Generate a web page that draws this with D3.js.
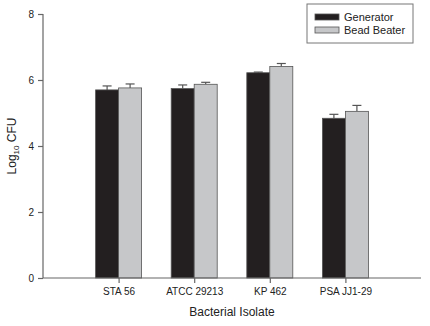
<!DOCTYPE html>
<html>
<head>
<meta charset="utf-8">
<script src="https://cdn.jsdelivr.net/npm/d3@7"></script>
<style>
  body { margin: 0; background: #fff; }
  svg { font-family: "Liberation Sans", Arial, sans-serif; }
</style>
</head>
<body>
<div id="wrapper"></div>
<script>
// values
const isolates = ["STA 56", "ATCC 29213", "KP 462", "PSA JJ1-29"];
const generator = [5.70, 5.74, 6.22, 4.84];
const generatorErr = [0.12, 0.11, 0.02, 0.12];
const beadBeater = [5.76, 5.87, 6.41, 5.05];
const beadBeaterErr = [0.12, 0.06, 0.09, 0.18];
const yTicks = [0, 2, 4, 6, 8];
const seriesNames = ["Generator", "Bead Beater"];
const seriesColors = ["#231f20", "#c6c7c9"];

function buildPlot() {
    const dimension = {
        width: 430,
        height: 326,
        margin: { top: 14, left: 43, bottom: 48, right: 9 }
    };
    dimension.boundedWidth = dimension.width - dimension.margin.left - dimension.margin.right;
    dimension.boundedHeight = dimension.height - dimension.margin.top - dimension.margin.bottom;

    const svg = d3.select("#wrapper").append("svg")
        .attr("width", dimension.width)
        .attr("height", dimension.height);

    const bounded = svg.append("g")
        .attr("transform", `translate(${dimension.margin.left},${dimension.margin.top})`);

    // categories sit at 1..4 on a 0..5 axis
    const xScaler = d3.scaleLinear()
        .domain([0, isolates.length + 1])
        .range([0, dimension.boundedWidth]);

    const yScaler = d3.scaleLinear()
        .domain([0, 8])
        .range([dimension.boundedHeight, 0]);

    const barWidth = 23;
    const series = [
        { name: seriesNames[0], values: generator, errs: generatorErr, color: seriesColors[0], off: -barWidth },
        { name: seriesNames[1], values: beadBeater, errs: beadBeaterErr, color: seriesColors[1], off: 0 }
    ];

    series.forEach(s => {
        const g = bounded.append("g");
        g.selectAll("line.stem")
            .data(s.values)
            .join("line")
            .attr("x1", (d, i) => xScaler(i + 1) + s.off + barWidth / 2)
            .attr("x2", (d, i) => xScaler(i + 1) + s.off + barWidth / 2)
            .attr("y1", d => yScaler(d))
            .attr("y2", (d, i) => yScaler(d + s.errs[i]))
            .attr("stroke", "#555")
            .attr("stroke-width", 1.2);
        g.selectAll("line.cap")
            .data(s.values)
            .join("line")
            .attr("x1", (d, i) => xScaler(i + 1) + s.off + barWidth / 2 - 4.5)
            .attr("x2", (d, i) => xScaler(i + 1) + s.off + barWidth / 2 + 4.5)
            .attr("y1", (d, i) => yScaler(d + s.errs[i]))
            .attr("y2", (d, i) => yScaler(d + s.errs[i]))
            .attr("stroke", "#555")
            .attr("stroke-width", 1.2);
        g.selectAll("rect")
            .data(s.values)
            .join("rect")
            .attr("x", (d, i) => xScaler(i + 1) + s.off)
            .attr("y", d => yScaler(d))
            .attr("width", barWidth)
            .attr("height", d => yScaler(0) - yScaler(d))
            .attr("fill", s.color)
            .attr("stroke", "#555")
            .attr("stroke-width", 0.8);
    });

    const yAxis = d3.axisLeft(yScaler)
        .tickValues(yTicks)
        .tickSize(5)
        .tickPadding(4);

    const gy = bounded.append("g").call(yAxis);
    gy.select(".domain").attr("d", `M0,0V${dimension.boundedHeight}`);

    const xAxis = d3.axisBottom(xScaler)
        .tickValues(d3.range(1, isolates.length + 1))
        .tickFormat(d => isolates[d - 1])
        .tickSize(5)
        .tickPadding(5);

    const gx = bounded.append("g")
        .attr("transform", `translate(0,${dimension.boundedHeight})`)
        .call(xAxis);
    gx.select(".domain").attr("d", `M0,0H${dimension.boundedWidth}`);

    svg.selectAll(".domain, .tick line").attr("stroke", "#666").attr("stroke-width", 1.2);
    svg.selectAll(".tick text").attr("font-size", 10).attr("fill", "#222")
        .attr("font-family", "Liberation Sans, Arial, sans-serif");

    // axis titles
    const yTitle = svg.append("text")
        .attr("transform", `translate(16,${dimension.margin.top + dimension.boundedHeight / 2}) rotate(-90)`)
        .attr("text-anchor", "middle")
        .attr("font-size", 12)
        .attr("fill", "#222");
    yTitle.append("tspan").text("Log");
    yTitle.append("tspan").attr("font-size", 8).attr("dy", 3).text("10");
    yTitle.append("tspan").attr("dy", -3).text(" CFU");

    svg.append("text")
        .attr("x", dimension.margin.left + dimension.boundedWidth / 2)
        .attr("y", 316)
        .attr("text-anchor", "middle")
        .attr("font-size", 12)
        .attr("fill", "#222")
        .text("Bacterial Isolate");

    // legend
    const legend = svg.append("g").attr("transform", "translate(307,4)");
    legend.append("rect")
        .attr("width", 106)
        .attr("height", 39)
        .attr("fill", "#fff")
        .attr("stroke", "#777")
        .attr("stroke-width", 1);
    series.forEach((s, i) => {
        legend.append("rect")
            .attr("x", 8)
            .attr("y", 10 + i * 13)
            .attr("width", 24)
            .attr("height", 6)
            .attr("fill", s.color)
            .attr("stroke", "#555")
            .attr("stroke-width", 0.8);
        legend.append("text")
            .attr("x", 37)
            .attr("y", 17 + i * 13)
            .attr("font-size", 11)
            .attr("fill", "#222")
            .text(s.name);
    });
}

buildPlot();
</script>
</body>
</html>
